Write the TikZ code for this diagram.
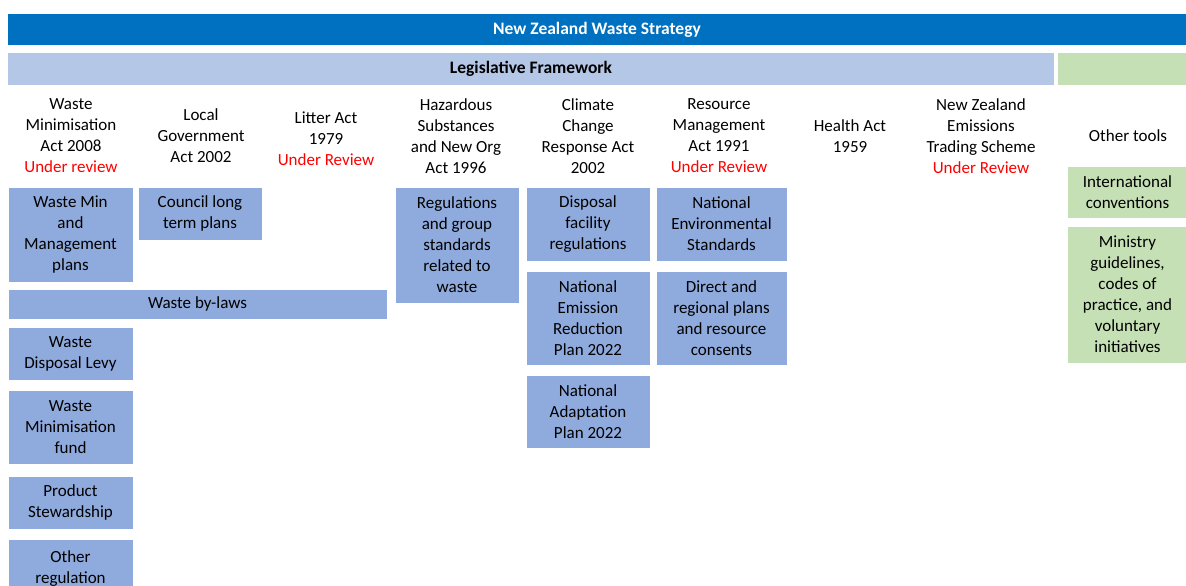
\documentclass[tikz,border=0pt]{standalone}
\usepackage{fontspec}
\setmainfont{Carlito}
\definecolor{nzblue}{HTML}{0070C0}
\definecolor{lightblue}{HTML}{B4C7E7}
\definecolor{midblue}{HTML}{8FAADC}
\definecolor{lightgreen}{HTML}{C5E0B4}
\definecolor{revred}{HTML}{FF0000}
\newcommand{\rev}[1]{\textcolor{revred}{#1}}

\begin{document}
\begin{tikzpicture}[x=1pt, y=-1pt,
    bar/.style={inner sep=0pt, font=\bfseries\fontsize{17.5}{21}\selectfont},
    hdr/.style={align=center, inner sep=0pt, font=\fontsize{17}{21}\selectfont},
    box/.style={fill=midblue, draw=white, thin, align=center, inner sep=0pt, font=\fontsize{17}{21}\selectfont},
    tool/.style={box, fill=lightgreen}]

    \clip (0,0) rectangle (1186,586);

    % top bars
    \node[bar, fill=nzblue, text=white, minimum width=1178pt, minimum height=31pt] (nzws) at (597,29.5) {New Zealand Waste Strategy};
    \node[bar, fill=lightblue, minimum width=1046pt, minimum height=32pt] (legis) at (531,69) {Legislative Framework};
    \node[bar, fill=lightgreen, minimum width=128pt, minimum height=32pt] (tools) at (1122,69) {};

    % acts
    \node[hdr] (wma) at (71,136) {Waste\\Minimisation\\Act 2008\\\rev{Under review}};
    \node[hdr] (lga) at (201,136) {Local\\Government\\Act 2002};
    \node[hdr] (litter) at (326,139) {Litter Act\\1979\\\rev{Under Review}};
    \node[hdr] (hsno) at (456,136) {Hazardous\\Substances\\and New Org\\Act 1996};
    \node[hdr] (ccra) at (588,136) {Climate\\Change\\Response Act\\2002};
    \node[hdr] (rma) at (719,136) {Resource\\Management\\Act 1991\\\rev{Under Review}};
    \node[hdr] (health) at (850,136.5) {Health Act\\1959};
    \node[hdr] (ets) at (981,136) {New Zealand\\Emissions\\Trading Scheme\\\rev{Under Review}};
    \node[hdr] (other) at (1128,136) {Other tools};

    % instruments
    \node[box, minimum width=125pt, minimum height=95pt] (wmplan) at (70.5,234.5) {Waste Min\\and\\Management\\plans};
    \node[box, minimum width=124pt, minimum height=53pt] (ltp) at (200,213.5) {Council long\\term plans};
    \node[box, minimum width=379pt, minimum height=30pt] (bylaws) at (197.5,304) {Waste by-laws};
    \node[box, minimum width=125pt, minimum height=53pt] (levy) at (70.5,353.5) {Waste\\Disposal Levy};
    \node[box, minimum width=125pt, minimum height=74pt] (fund) at (70.5,427) {Waste\\Minimisation\\fund};
    \node[box, minimum width=125pt, minimum height=53pt] (stew) at (70.5,502.5) {Product\\Stewardship};
    \node[box, minimum width=125pt, minimum height=60pt] (otherreg) at (70.5,569) {Other\\regulation};

    \node[box, minimum width=124pt, minimum height=116pt] (hsnoreg) at (457,245) {Regulations\\and group\\standards\\related to\\waste};

    \node[box, minimum width=124pt, minimum height=74pt] (disposal) at (588,224) {Disposal\\facility\\regulations};
    \node[box, minimum width=124pt, minimum height=94pt] (nerp) at (588,318) {National\\Emission\\Reduction\\Plan 2022};
    \node[box, minimum width=124pt, minimum height=73pt] (nap) at (588,411.5) {National\\Adaptation\\Plan 2022};

    \node[box, minimum width=131pt, minimum height=74pt] (nes) at (721.5,224) {National\\Environmental\\Standards};
    \node[box, minimum width=131pt, minimum height=94pt] (plans) at (721.5,318) {Direct and\\regional plans\\and resource\\consents};

    \node[tool, minimum width=121pt, minimum height=52pt] (intl) at (1127.5,192) {International\\conventions};
    \node[tool, minimum width=121pt, minimum height=137pt] (guides) at (1127.5,294.5) {Ministry\\guidelines,\\codes of\\practice, and\\voluntary\\initiatives};

\end{tikzpicture}
\end{document}
